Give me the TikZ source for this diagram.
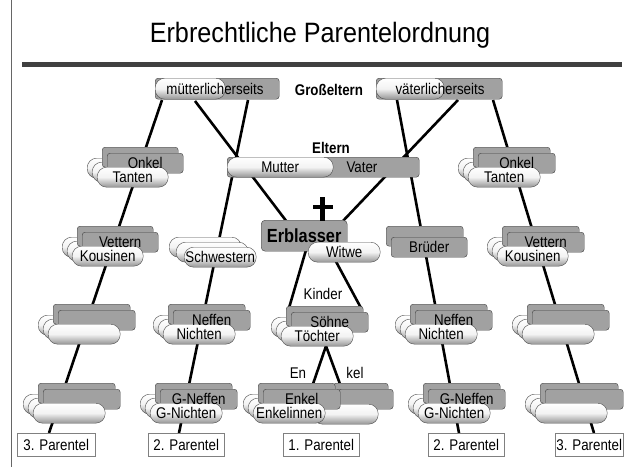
\documentclass[tikz,border=0pt]{standalone}
\usepackage{fontspec}
\setmainfont{Liberation Sans}
\newfontfamily\narrowfont{Liberation Sans}[FakeStretch=0.86]
\usetikzlibrary{calc}
\newcommand\lbl{\narrowfont\fontsize{15.5}{17}\selectfont}
\newcommand\pstack[7]{%
  \node[pill,minimum width=#5pt] (#1c) at (#2-15,#3+11) {};
  \node[pill,minimum width=#5pt] (#1d) at (#2-10,#3+15) {};
  \node[gbox,minimum width=#4pt] (#1a) at (#2,#3) {};
  \node[gbox,minimum width=#4pt] (#1b) at (#2+5,#3+6) {};
  \node[pill,minimum width=#5pt] (#1e) at (#2-5,#3+20) {#7};
  \node[lab] (#1t) at (#1b.center) {#6};
}
\begin{document}
\begin{tikzpicture}[x=1pt,y=-1pt,
  gbox/.style={draw=black!75, fill=black!37, rounded corners=3pt, anchor=north west,
    minimum height=20pt, inner sep=0pt, font=\lbl, text height=11pt, text depth=0pt},
  pill/.style={draw=black!70, top color=white, bottom color=black!42, middle color=black!5,
    rounded corners=9.5pt, anchor=north west,
    minimum height=20pt, inner sep=0pt, font=\lbl, text height=11pt, text depth=0pt},
  parbox/.style={draw=black!50, fill=white, anchor=north west, minimum height=23pt,
    inner sep=0pt, font=\narrowfont\fontsize{15.5}{17}\selectfont, text height=11pt, text depth=0pt},
  lab/.style={inner sep=0pt, font=\lbl, text height=11pt, text depth=0pt},
  blab/.style={inner sep=0pt, font=\narrowfont\bfseries\fontsize{15.5}{17}\selectfont, text height=11pt, text depth=0pt},
  conn/.style={line width=2.6pt, black}]
\useasboundingbox (0,0) rectangle (625,471);
% title
\node[anchor=base, inner sep=0pt] (title) at (320,42)
  {\scalebox{0.9}[1]{\fontsize{28}{32}\selectfont Erbrechtliche Parentelordnung}};
\coordinate (rulel) at (22,64.5);
\coordinate (ruler) at (622,64.5);
\draw[line width=5pt, black!75] (rulel) -- (ruler);
\coordinate (bordt) at (11,0);
\coordinate (bordb) at (11,467);
\draw[line width=0.8pt, black!60] (bordt) -- (bordb);
% connector end points
\coordinate (l3a) at (162,100);   \coordinate (l3b) at (49,433);
\coordinate (l2a) at (248,100);   \coordinate (l2b) at (179,433);
\coordinate (lma) at (195,101);   \coordinate (lmb) at (287,222);
\coordinate (rva) at (458,100);   \coordinate (rvb) at (342,222);
\coordinate (r2a) at (397,100);   \coordinate (r2b) at (459,433);
\coordinate (r3a) at (493,100);   \coordinate (r3b) at (594,433);
\coordinate (k1a) at (306,250);   \coordinate (k1b) at (289,308);
\coordinate (k2a) at (333,256);   \coordinate (k2b) at (361,308);
\coordinate (ena) at (326,346);   \coordinate (enl) at (313,384);
\coordinate (enr) at (340,384);
\draw[conn] (l3a) -- (l3b);
\draw[conn] (l2a) -- (l2b);
\draw[conn] (lma) -- (lmb);
\draw[conn] (rva) -- (rvb);
\draw[conn] (r2a) -- (r2b);
\draw[conn] (r3a) -- (r3b);
\draw[conn] (k1a) -- (k1b);
\draw[conn] (k2a) -- (k2b);
\draw[conn] (enl) -- (ena) -- (enr);
% grandparents
\node[gbox, minimum width=124pt, minimum height=21pt] (mgb) at (155,78) {};
\node[pill, minimum width=70pt, minimum height=21pt] (mgp) at (155,78) {};
\node[lab] (mgt) at (215,89) {mütterlicherseits};
\node[gbox, minimum width=126pt, minimum height=21pt] (vgb) at (376,78) {};
\node[pill, minimum width=68pt, minimum height=21pt] (vgp) at (376,78) {};
\node[lab] (vgt) at (440,89) {väterlicherseits};
\node[blab] (grossel) at (329,90) {Großeltern};
% parents
\node[blab] (eltern) at (331,148) {Eltern};
\node[gbox, minimum width=192pt] (vater) at (227,157) {};
\node[pill, minimum width=106pt] (mutter) at (227,157) {Mutter};
\node[lab] (vatert) at (362,167) {Vater};
% Onkel / Tanten
\pstack{oL}{102}{147}{76}{71}{Onkel}{Tanten}
\pstack{oR}{473}{147}{77}{72}{Onkel}{Tanten}
% Vettern / Kousinen
\pstack{vL}{77}{226}{76}{71}{Vettern}{Kousinen}
\pstack{vR}{502}{226}{77}{71}{Vettern}{Kousinen}
% Schwestern
\node[pill, minimum width=72pt] (sw1) at (169,237) {};
\node[pill, minimum width=72pt] (sw2) at (176,242) {};
\node[pill, minimum width=72pt] (sw3) at (184,247) {Schwestern};
% Brueder
\node[gbox, minimum width=77pt] (br1) at (386,226) {};
\node[gbox, minimum width=76pt] (br2) at (391,237) {Brüder};
% Erblasser
\node[gbox, minimum width=86pt, minimum height=31pt, rounded corners=4pt,
  font=\narrowfont\bfseries\fontsize{19}{21}\selectfont, text height=13.5pt] (erbl) at (261,220) {Erblasser};
\coordinate (crt) at (322.5,197);
\coordinate (crb) at (322.5,221);
\coordinate (crl) at (313,207);
\coordinate (crr) at (333,207);
\draw[line width=5pt] (crt) -- (crb);
\draw[line width=4.5pt] (crl) -- (crr);
\node[pill, minimum width=72pt] (witwe) at (308,242) {Witwe};
\node[lab] (kinder) at (323,294) {Kinder};
% row 3
\pstack{e3L}{53}{304}{77}{72}{}{}
\pstack{nL}{168}{304}{77}{72}{Neffen}{Nichten}
\pstack{sK}{286}{306}{77}{72}{Söhne}{Töchter}
\pstack{nR}{410}{304}{77}{72}{Neffen}{Nichten}
\pstack{e3R}{527}{304}{77}{72}{}{}
% row 4
\pstack{e4L}{38}{383}{77}{72}{}{}
\pstack{gL}{155}{383}{77}{72}{G-Neffen}{G-Nichten}
\node[gbox, minimum width=55pt] (ek1) at (333,383) {};
\node[gbox, minimum width=55pt] (ek2) at (338,389) {};
\node[pill, minimum width=65pt] (ek3) at (313,404) {};
\pstack{eK}{258}{383}{77}{72}{Enkel}{Enkelinnen}
\node[lab] (en) at (298,373) {En};
\node[lab] (kel) at (355,373) {kel};
\pstack{gR}{423}{383}{77}{72}{G-Neffen}{G-Nichten}
\pstack{e4R}{540}{383}{78}{72}{}{}
% Parentel boxes
\node[parbox, minimum width=78pt] (p3l) at (17,433) {3. Parentel};
\node[parbox, minimum width=76pt] (p2l) at (148,433) {2. Parentel};
\node[parbox, minimum width=76pt] (p1) at (283,433) {1. Parentel};
\node[parbox, minimum width=76pt] (p2r) at (428,433) {2. Parentel};
\node[parbox, minimum width=68pt] (p3r) at (555,433) {3. Parentel};
\end{tikzpicture}
\end{document}
